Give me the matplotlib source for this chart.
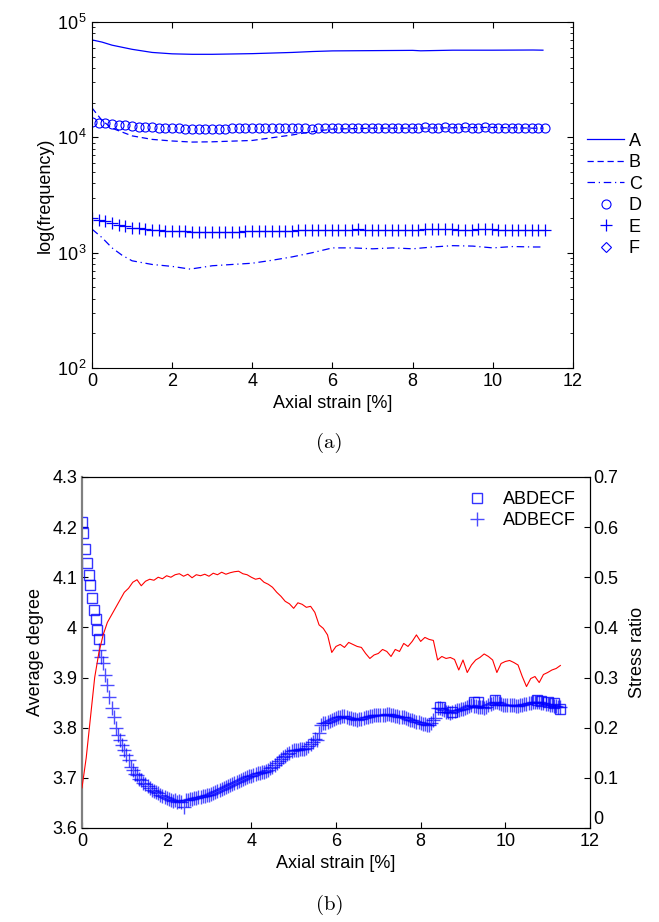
import numpy as np
import matplotlib
matplotlib.use("Agg")
from matplotlib import pyplot as plt
from matplotlib.ticker import FixedLocator, LogLocator, NullFormatter

plt.rcParams['font.family'] = ['Liberation Sans', 'DejaVu Sans']
plt.rcParams['mathtext.fontset'] = 'custom'
plt.rcParams['mathtext.rm'] = 'Liberation Sans'
plt.rcParams['mathtext.it'] = 'Liberation Sans:italic'
plt.rcParams['font.size'] = 13

# ---------------- (a) frequency of each configuration ----------------
strain_a = [0, 0.25, 0.5, 1, 1.5, 2, 2.5, 3, 4, 5, 5.5, 6, 7, 8, 8.2, 9, 10, 11, 11.25]
freq_a = [7.0e4, 6.7e4, 6.3e4, 5.8e4, 5.45e4, 5.3e4, 5.25e4, 5.25e4, 5.32e4, 5.45e4,
          5.55e4, 5.62e4, 5.65e4, 5.68e4, 5.63e4, 5.7e4, 5.7e4, 5.72e4, 5.7e4]

strain_b = [0, 0.25, 0.5, 1, 1.5, 2, 2.5, 3, 4, 5, 5.5, 6, 7, 8, 9, 10, 11, 11.25]
freq_b = [1.8e4, 1.4e4, 1.2e4, 1.03e4, 9.6e3, 9.3e3, 9.1e3, 9.15e3, 9.4e3, 1.05e4,
          1.12e4, 1.18e4, 1.2e4, 1.2e4, 1.21e4, 1.22e4, 1.2e4, 1.2e4]

strain_c = [0, 0.25, 0.5, 0.75, 1.0, 1.5, 2.0, 2.45, 3, 3.5, 4, 4.5, 5, 5.5, 6, 6.5,
            7, 7.5, 8, 8.5, 9, 9.5, 10, 10.5, 11, 11.25]
freq_c = [1.6e3, 1.35e3, 1.1e3, 9.5e2, 8.5e2, 7.9e2, 7.6e2, 7.2e2, 7.7e2, 7.9e2, 8.1e2,
          8.6e2, 9.2e2, 1.0e3, 1.1e3, 1.1e3, 1.08e3, 1.1e3, 1.08e3, 1.12e3, 1.15e3,
          1.14e3, 1.1e3, 1.13e3, 1.12e3, 1.12e3]

strain_de = np.linspace(0, 11.3, 69)
freq_d = [1.35e4, 1.34e4, 1.33e4, 1.31e4, 1.29e4, 1.27e4, 1.25e4, 1.24e4, 1.23e4, 1.22e4,
          1.21e4, 1.2e4, 1.2e4, 1.2e4, 1.19e4, 1.19e4, 1.19e4, 1.19e4, 1.19e4, 1.19e4,
          1.19e4, 1.2e4, 1.2e4, 1.2e4, 1.2e4, 1.2e4, 1.2e4, 1.2e4, 1.2e4, 1.2e4,
          1.2e4, 1.2e4, 1.2e4, 1.19e4, 1.2e4, 1.21e4, 1.21e4, 1.2e4, 1.21e4, 1.2e4,
          1.2e4, 1.21e4, 1.2e4, 1.21e4, 1.2e4, 1.21e4, 1.21e4, 1.2e4, 1.21e4, 1.21e4,
          1.22e4, 1.21e4, 1.21e4, 1.22e4, 1.21e4, 1.21e4, 1.22e4, 1.21e4, 1.21e4, 1.22e4,
          1.21e4, 1.21e4, 1.21e4, 1.2e4, 1.21e4, 1.2e4, 1.2e4, 1.2e4, 1.2e4]
freq_e = [2.0e3, 1.93e3, 1.87e3, 1.8e3, 1.74e3, 1.69e3, 1.65e3, 1.62e3, 1.59e3, 1.57e3,
          1.56e3, 1.55e3, 1.54e3, 1.53e3, 1.53e3, 1.52e3, 1.52e3, 1.52e3, 1.52e3, 1.52e3,
          1.51e3, 1.52e3, 1.52e3, 1.53e3, 1.53e3, 1.53e3, 1.54e3, 1.54e3, 1.55e3, 1.55e3,
          1.55e3, 1.56e3, 1.56e3, 1.56e3, 1.57e3, 1.57e3, 1.57e3, 1.58e3, 1.57e3, 1.58e3,
          1.6e3, 1.58e3, 1.58e3, 1.58e3, 1.58e3, 1.57e3, 1.56e3, 1.57e3, 1.58e3, 1.58e3,
          1.59e3, 1.59e3, 1.59e3, 1.59e3, 1.59e3, 1.58e3, 1.58e3, 1.58e3, 1.59e3, 1.59e3,
          1.59e3, 1.58e3, 1.58e3, 1.58e3, 1.58e3, 1.58e3, 1.57e3, 1.56e3, 1.57e3]
strain_f = []
freq_f = []

# ---------------- (b) average degree and stress ratio ----------------
strain_sq = [0.0, 0.03, 0.07, 0.125, 0.165, 0.2, 0.236, 0.28, 0.32, 0.36, 0.4,
             8.45, 8.75, 9.25, 9.35, 9.75, 10.75, 10.85, 11.0, 11.15, 11.3]
degree_sq = [4.211, 4.188, 4.157, 4.128, 4.104, 4.084, 4.058, 4.035, 4.017, 3.995, 3.976,
             3.842, 3.832, 3.852, 3.851, 3.855, 3.855, 3.853, 3.852, 3.85, 3.838]

# ADBECF, every 0.05 % from 0.4 to 11.3
strain_plus = np.round(np.linspace(0.4, 11.3, 219), 2)
degree_plus = [
    3.955, 3.94, 3.928, 3.905, 3.885, 3.862, 3.84, 3.822, 3.80, 3.786, 3.775, 3.765,
    3.755, 3.746, 3.735, 3.722, 3.715, 3.708, 3.705, 3.698, 3.695, 3.69,
    3.688, 3.683, 3.68, 3.676, 3.674, 3.671, 3.669, 3.666, 3.664, 3.661,
    3.66, 3.658, 3.656, 3.654, 3.655, 3.652, 3.653, 3.651, 3.642, 3.655,
    3.656, 3.657, 3.658, 3.66, 3.66, 3.661, 3.662, 3.664, 3.664, 3.665,
    3.666, 3.668, 3.669, 3.671, 3.673, 3.676, 3.678, 3.68, 3.682, 3.684,
    3.686, 3.688, 3.69, 3.692, 3.694, 3.695, 3.697, 3.7, 3.702, 3.703,
    3.704, 3.706, 3.707, 3.709, 3.71, 3.711, 3.712, 3.714, 3.716, 3.719,
    3.722, 3.725, 3.729, 3.733, 3.737, 3.741, 3.744, 3.747, 3.75, 3.753,
    3.755, 3.756, 3.756, 3.757, 3.757, 3.758, 3.76, 3.764, 3.768, 3.772,
    3.777, 3.776, 3.79, 3.806, 3.809, 3.81, 3.812, 3.814, 3.816, 3.818,
    3.82, 3.821, 3.822, 3.824, 3.823, 3.821, 3.82, 3.819, 3.818, 3.817,
    3.816, 3.817, 3.818, 3.82, 3.822, 3.822, 3.823, 3.824, 3.825, 3.826,
    3.826, 3.825, 3.825, 3.826, 3.827, 3.827, 3.826, 3.825, 3.824, 3.823,
    3.822, 3.822, 3.822, 3.82, 3.818, 3.816, 3.815, 3.813, 3.812, 3.811,
    3.81, 3.808, 3.807, 3.805, 3.805, 3.81, 3.815, 3.82, 3.84, 3.84,
    3.838, 3.835, 3.832, 3.831, 3.83, 3.832, 3.834, 3.835, 3.836, 3.837,
    3.838, 3.84, 3.842, 3.844, 3.845, 3.844, 3.843, 3.842, 3.842, 3.841,
    3.84, 3.842, 3.845, 3.848, 3.85, 3.851, 3.852, 3.85, 3.848, 3.846,
    3.845, 3.845, 3.846, 3.846, 3.845, 3.844, 3.844, 3.845, 3.846, 3.847,
    3.848, 3.849, 3.85, 3.851, 3.852, 3.852, 3.851, 3.85, 3.849, 3.848,
    3.848, 3.846, 3.845, 3.844, 3.843, 3.842, 3.842]

strain_red = np.round(np.linspace(0.0, 11.3, 114), 2)
stress_ratio = [0.08, 0.14, 0.22, 0.30, 0.35, 0.385, 0.41, 0.425, 0.44, 0.455,
                0.47, 0.478, 0.49, 0.495, 0.483, 0.492, 0.496, 0.494, 0.5, 0.497,
                0.503, 0.5, 0.505, 0.507, 0.502, 0.506, 0.499, 0.505, 0.503, 0.506,
                0.502, 0.508, 0.505, 0.51, 0.506, 0.509, 0.511, 0.512, 0.507, 0.505,
                0.5, 0.496, 0.498, 0.49, 0.486, 0.48, 0.47, 0.462, 0.452, 0.447,
                0.438, 0.449, 0.446, 0.44, 0.442, 0.43, 0.405, 0.398, 0.385, 0.35,
                0.362, 0.366, 0.36, 0.37, 0.366, 0.362, 0.36, 0.348, 0.338, 0.345,
                0.348, 0.356, 0.352, 0.342, 0.356, 0.352, 0.368, 0.362, 0.372, 0.385,
                0.372, 0.38, 0.376, 0.374, 0.335, 0.342, 0.338, 0.34, 0.336, 0.315,
                0.335, 0.31, 0.325, 0.335, 0.34, 0.347, 0.342, 0.335, 0.31, 0.328,
                0.332, 0.334, 0.33, 0.325, 0.302, 0.282, 0.298, 0.302, 0.29, 0.306,
                0.31, 0.315, 0.318, 0.324]

fig = plt.figure(figsize=(6.59, 9.22), dpi=100)

# top panel
ax = fig.add_axes([0.1396, 0.6009, 0.7299, 0.3752])
ax.plot(strain_a, freq_a, '-', color='blue', lw=0.9, label='A')
ax.plot(strain_b, freq_b, '--', color='blue', lw=0.9, label='B', dashes=(5, 3))
ax.plot(strain_c, freq_c, '-.', color='blue', lw=0.9, label='C', dashes=(6, 3, 1, 3))
ax.plot(strain_de, freq_d, 'o', color='blue', mfc='none', ms=6.5, mew=0.8, label='D')
ax.plot(strain_de, freq_e, '+', color='blue', ms=8, mew=0.9, label='E')
ax.plot(strain_f, freq_f, 'D', color='blue', mfc='none', ms=5, mew=0.8, label='F')
ax.set_yscale('log')
ax.set_xlim(0, 12)
ax.set_ylim(1e2, 1e5)
ax.xaxis.set_major_locator(FixedLocator([0, 2, 4, 6, 8, 10, 12]))
ax.yaxis.set_major_locator(FixedLocator([1e2, 1e3, 1e4, 1e5]))
ax.set_yticklabels([r'$\mathrm{10}^{\,2}$', r'$\mathrm{10}^{\,3}$',
                    r'$\mathrm{10}^{\,4}$', r'$\mathrm{10}^{\,5}$'])
ax.yaxis.set_minor_locator(LogLocator(base=10, subs=np.arange(2, 10)))
ax.yaxis.set_minor_formatter(NullFormatter())
ax.tick_params(which='both', direction='in', top=True, right=True)
ax.tick_params(which='major', length=4)
ax.tick_params(which='minor', length=2)
ax.set_xlabel('Axial strain [%]', labelpad=4)
ax.set_ylabel('log(frequency)', labelpad=2)
ax.legend(loc='center left', bbox_to_anchor=(1.0, 0.5), frameon=False,
          handlelength=2.0, handletextpad=0.3, labelspacing=0.25, borderaxespad=0.4)
fig.text(0.5, 1 - 443 / 922, '(a)', family='cmr10', fontsize=15, ha='center', va='center')

# bottom panel
ax1 = fig.add_axes([0.1244, 0.1020, 0.7709, 0.3807])
ax1.plot(strain_sq, degree_sq, 's', color='blue', mfc='none', ms=6.5, mew=1.0,
         alpha=0.8, label='ABDECF')
ax1.plot(strain_plus, degree_plus, '+', color='blue', ms=10, mew=1.0,
         alpha=0.7, label='ADBECF')
ax1.set_xlim(0, 12)
ax1.set_ylim(3.6, 4.3)
ax1.set_xticks([0, 2, 4, 6, 8, 10, 12])
ax1.set_yticks([3.6, 3.7, 3.8, 3.9, 4.0, 4.1, 4.2, 4.3])
ax1.set_yticklabels(['3.6', '3.7', '3.8', '3.9', '4', '4.1', '4.2', '4.3'])
ax1.tick_params(direction='in', length=4)
ax1.spines['left'].set_color('#808080')
ax1.spines['left'].set_linewidth(1.6)
ax1.set_xlabel('Axial strain [%]', labelpad=4)
ax1.set_ylabel('Average degree', labelpad=6)
ax1.legend(loc='upper right', frameon=False, handlelength=1.2, handletextpad=0.8,
           labelspacing=0.2, borderaxespad=0.4)

ax2 = ax1.twinx()
ax2.plot(strain_red, stress_ratio, '-', color='red', lw=0.8)
ax2.set_ylim(0, 0.7)
ax2.set_yticks([0, 0.1, 0.2, 0.3, 0.4, 0.5, 0.6, 0.7])
ax2.set_yticklabels(['0', '0.1', '0.2', '0.3', '0.4', '0.5', '0.6', '0.7'])
ax2.tick_params(direction='in', length=4, pad=2)
ax2.get_yticklabels()[0].set_va('bottom')
ax2.spines['left'].set_visible(False)
ax2.set_ylabel('Stress ratio', labelpad=8)
fig.text(0.5, 1 - 905 / 922, '(b)', family='cmr10', fontsize=15, ha='center', va='center')

fig.savefig('out.png', dpi=100)
